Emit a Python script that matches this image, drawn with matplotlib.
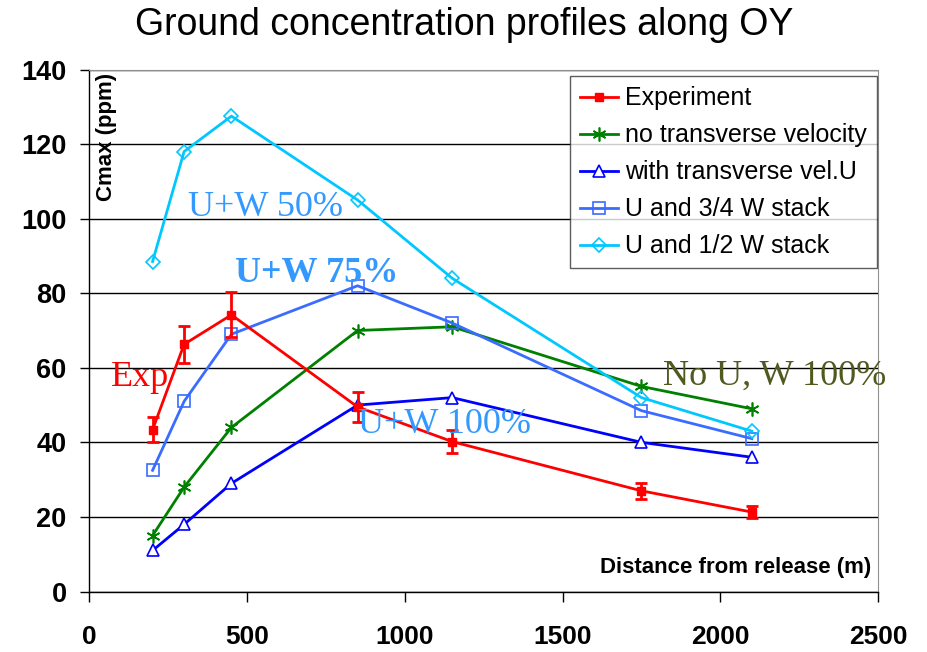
import matplotlib.pyplot as plt

# distances along OY (m)
dist = [200, 300, 450, 850, 1150, 1750, 2100]

# measured and computed max ground concentrations (ppm)
experiment = [43.4, 66.3, 74.2, 49.5, 40.2, 27.0, 21.3]
exp_err = [3.3, 5.0, 6.0, 4.0, 3.0, 2.2, 1.6]
no_transverse = [15, 28, 44, 70, 71, 55, 49]
with_transverse = [11, 18, 29, 50, 52, 40, 36]
u_34w = [32.5, 51, 69, 82, 72, 48.5, 41]
u_12w = [88.5, 118, 127.5, 105, 84, 52, 43]

x_ticks = [0, 500, 1000, 1500, 2000, 2500]
y_ticks = [0, 20, 40, 60, 80, 100, 120, 140]

plt.rcParams['font.family'] = ['Liberation Sans', 'DejaVu Sans']

fig = plt.figure(figsize=(9.28, 6.52), dpi=100)
ax = fig.add_axes([89.5 / 928, 1 - 591.5 / 652, (878 - 89.5) / 928, (591.5 - 69.5) / 652])

ax.set_xlim(0, 2500)
ax.set_ylim(0, 140)
ax.set_xticks(x_ticks)
ax.set_yticks(y_ticks)
ax.yaxis.grid(True, color='black', linewidth=1.0)
ax.set_axisbelow(True)

for s in ['top', 'right']:
    ax.spines[s].set_color('#909090')
ax.spines['left'].set_linewidth(1.0)
ax.spines['bottom'].set_linewidth(1.0)

ax.tick_params(axis='x', direction='out', length=7, width=1, pad=17, labelsize=19)
ax.tick_params(axis='y', direction='out', length=6.5, width=1, pad=10, labelsize=19.5)
for lab in ax.get_xticklabels() + ax.get_yticklabels():
    lab.set_fontweight('bold')

lw = 2.0
# experiment: line + markers, then the error bars on top
ax.plot(dist, experiment, color='#ff0000', marker='s', markersize=6,
        linewidth=lw, label='Experiment', zorder=6)
ax.errorbar(dist, experiment, yerr=exp_err, fmt='none', ecolor='#ff0000',
            elinewidth=2, capsize=4, capthick=2, zorder=6)
ax.plot(dist, no_transverse, color='#008000', marker=(6, 2, 0), markersize=10,
        markeredgewidth=1.2, linewidth=lw, label='no transverse velocity', zorder=4)
ax.plot(dist, with_transverse, color='#0000ff', marker='^', markersize=8,
        markerfacecolor='white', markeredgewidth=1.2, linewidth=lw,
        label='with transverse vel.U', zorder=4)
ax.plot(dist, u_34w, color='#3a6cff', marker='s', markersize=8,
        markerfacecolor='none', markeredgewidth=1.2, linewidth=lw,
        label='U and 3/4 W stack', zorder=4)
ax.plot(dist, u_12w, color='#00c8ff', marker='D', markersize=7,
        markerfacecolor='none', markeredgewidth=1.2, linewidth=lw,
        label='U and 1/2 W stack', zorder=4)

leg = ax.legend(loc='upper right', bbox_to_anchor=(0.999, 0.987), borderaxespad=0,
                fontsize=18, frameon=True, fancybox=False, edgecolor='#333333',
                handlelength=1.5, handletextpad=0.3, labelspacing=0.52,
                borderpad=0.4)
leg.get_frame().set_linewidth(1.0)
leg.set_zorder(10)

# curve annotations
serif = ['Liberation Serif', 'DejaVu Serif']
ax.text(311, 100.6, 'U+W 50%', color='#3399ff', fontsize=26, family=serif, zorder=7)
ax.text(460, 82.9, 'U+W 75%', color='#3399ff', fontsize=26, fontweight='bold',
        family=serif, zorder=7)
ax.text(68, 55.0, 'Exp', color='#ff0000', fontsize=26, family=serif, zorder=7)
ax.text(850, 42.6, 'U+W 100%', color='#3399ff', fontsize=26, family=serif, zorder=7)
ax.text(1818, 55.5, 'No U, W 100%', color='#4f5a1e', fontsize=26, family=serif, zorder=7)

ax.text(0.992, 0.025, 'Distance from release (m)', transform=ax.transAxes,
        ha='right', va='bottom', fontsize=16, fontweight='bold')
ax.text(0.008, 0.994, 'Cmax (ppm)', transform=ax.transAxes, rotation=90,
        ha='left', va='top', fontsize=16, fontweight='bold')

fig.text(0.5, 1 - 25 / 652, 'Ground concentration profiles along OY',
         ha='center', va='center', fontsize=27)

fig.savefig('out.png', dpi=100)
